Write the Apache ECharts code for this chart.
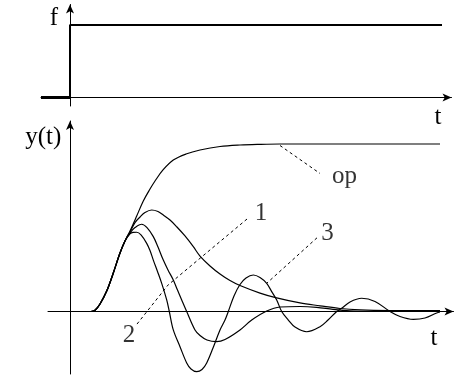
<!DOCTYPE html>
<html>
<head>
<meta charset="utf-8">
<script src="https://cdn.jsdelivr.net/npm/echarts@6/dist/echarts.min.js"></script>
<style>
html,body{margin:0;padding:0;background:#fff;}
#chart{width:464px;height:383px;}
</style>
</head>
<body>
<div id="chart"></div>
<script>
// ---- data (t along the time axis, value on the vertical axis) ----
const stepBefore = [[-2.9, 0], [0, 0]];
const stepAfter = [[0, 0], [0, 1], [37.2, 1]];

const curveOp = [[2.1,0],[2.5,0.007],[3.0,0.045],[3.67,0.122],[4.33,0.230],[5.0,0.349],[5.5,0.421],
  [6.0,0.481],[6.67,0.570],[7.33,0.660],[8.0,0.731],[8.5,0.779],[9.3,0.845],[10.33,0.904],
  [11.6,0.940],[13.0,0.964],[15.0,0.985],[17.0,0.994],[19.0,0.998],[21.0,1.0],[25.0,1.0],[30.0,1.0],[37.0,1.0]];

const curve1 = [[2.1,0],[2.5,0.007],[3.0,0.045],[3.67,0.122],[4.33,0.230],[5.0,0.349],[5.5,0.421],
  [6.0,0.475],[6.5,0.531],[7.0,0.564],[7.5,0.591],[8.17,0.606],[8.8,0.597],[9.33,0.576],[10.0,0.546],
  [10.67,0.506],[11.5,0.451],[12.33,0.387],[13.0,0.331],[14.0,0.272],[15.0,0.224],[16.0,0.185],
  [17.0,0.155],[19.0,0.110],[20.67,0.081],[23.0,0.051],[25.0,0.034],[27.0,0.018],[29.0,0.010],
  [32.0,0.006],[37.0,0.005]];

const curve2 = [[2.1,0],[2.5,0.007],[3.0,0.045],[3.67,0.122],[4.33,0.230],[5.0,0.349],[5.5,0.421],
  [6.0,0.469],[6.5,0.501],[7.17,0.521],[7.7,0.501],[8.33,0.447],[8.8,0.385],[9.33,0.307],[9.8,0.248],
  [10.33,0.188],[10.75,0.128],[11.17,0.069],[11.67,0],[12.5,-0.110],[13.0,-0.143],[13.7,-0.170],
  [14.67,-0.180],[15.5,-0.167],[17.0,-0.110],[18.17,-0.051],[19.67,0.003],[21.0,0.027],[23.0,0.030],
  [24.67,0.025],[26.3,0.013],[28.0,0.004],[30.0,0],[37.0,0]];

const curve3 = [[2.1,0],[2.5,0.007],[3.0,0.045],[3.67,0.122],[4.33,0.230],[5.0,0.349],[5.5,0.421],
  [6.0,0.463],[6.3,0.472],[6.67,0.473],[7.1,0.457],[7.67,0.407],[8.0,0.364],[8.33,0.307],[8.75,0.239],
  [9.17,0.168],[9.67,0.069],[9.93,0],[10.33,-0.110],[11.0,-0.210],[11.67,-0.307],[12.1,-0.343],
  [12.67,-0.359],[13.2,-0.346],[13.67,-0.307],[14.3,-0.218],[15.0,-0.110],[15.5,-0.051],[15.83,0],
  [16.4,0.093],[17.0,0.161],[17.6,0.200],[18.33,0.218],[19.0,0.203],[19.67,0.168],[20.2,0.116],
  [20.67,0.069],[21.17,0],[21.83,-0.051],[22.5,-0.093],[23.67,-0.121],[25.0,-0.091],[25.8,-0.051],
  [26.67,0],[27.17,0.019],[28.0,0.057],[29.17,0.079],[30.5,0.060],[32.0,0],[33.0,-0.030],
  [34.33,-0.047],[35.5,-0.039],[36.67,-0.009],[37.0,-0.003]];

const leaderOp = [[21.0, 0.991], [25.0, 0.824]];
const leader1 = [[17.7, 0.552], [9.8, 0.158]];
const leader2 = [[6.7, -0.075], [9.8, 0.158]];
const leader3 = [[24.7, 0.440], [19.7, 0.170]];

const curveLabels = ['op', '1', '2', '3'];
const axisLabels = ['f', 't', 'y(t)', 't'];

// ---- layout ----
const topGrid = {left: 41, top: 4.5, width: 410.5, height: 101.5, x0: 70, y0: 97.5, xs: 10, ys: 72.5};
const botGrid = {left: 48, top: 121, width: 405.5, height: 253, x0: 70, y0: 311.5, xs: 10, ys: 167.5};

function xr(g){ return {min: (g.left - g.x0)/g.xs, max: (g.left + g.width - g.x0)/g.xs}; }
function yr(g){ return {min: -(g.top + g.height - g.y0)/g.ys, max: (g.y0 - g.top)/g.ys}; }

const axisCommon = {
  type: 'value',
  splitLine: {show: false},
  axisTick: {show: false},
  axisLabel: {show: false},
  axisLine: {show: true, onZero: true, symbol: ['none', 'arrow'], symbolSize: [6, 9],
    lineStyle: {color: '#000', width: 1}}
};

function lineSeries(data, xi, width, extra) {
  return Object.assign({
    type: 'line', xAxisIndex: xi, yAxisIndex: xi, data: data,
    symbol: 'none', showSymbol: false, silent: true,
    lineStyle: {color: '#000', width: width}
  }, extra || {});
}
function dashed(data) {
  return lineSeries(data, 1, 1, {lineStyle: {color: '#000', width: 1, type: [3, 3]}});
}
// curve labels anchored in data coordinates via an invisible scatter point
function textPoint(s, t, v) {
  return {
    type: 'scatter', xAxisIndex: 1, yAxisIndex: 1, data: [[t, v]],
    symbolSize: 0, silent: true,
    label: {show: true, position: 'inside', formatter: s, color: '#000',
      fontFamily: 'Liberation Serif', fontSize: 25}
  };
}
function txt(s, x, y) {
  return {type: 'text', x: x, y: y, style: {text: s, fontFamily: 'Liberation Serif', fontSize: 25,
    fill: '#000', align: 'center', verticalAlign: 'middle'}};
}

const chart = echarts.init(document.getElementById('chart'));
chart.setOption({
  animation: false,
  backgroundColor: '#fff',
  textStyle: {fontFamily: 'Liberation Serif'},
  grid: [
    {left: topGrid.left, top: topGrid.top, width: topGrid.width, height: topGrid.height},
    {left: botGrid.left, top: botGrid.top, width: botGrid.width, height: botGrid.height}
  ],
  xAxis: [
    Object.assign({}, axisCommon, {gridIndex: 0}, xr(topGrid)),
    Object.assign({}, axisCommon, {gridIndex: 1}, xr(botGrid))
  ],
  yAxis: [
    Object.assign({}, axisCommon, {gridIndex: 0}, yr(topGrid)),
    Object.assign({}, axisCommon, {gridIndex: 1}, yr(botGrid))
  ],
  series: [
    lineSeries(stepBefore, 0, 3),
    lineSeries(stepAfter, 0, 2),
    lineSeries(curveOp, 1, 1.2, {smooth: 0.35}),
    lineSeries(curve1, 1, 1.2, {smooth: 0.35}),
    lineSeries(curve2, 1, 1.2, {smooth: 0.35}),
    lineSeries(curve3, 1, 1.2, {smooth: 0.35}),
    dashed(leaderOp), dashed(leader1), dashed(leader2), dashed(leader3),
    textPoint(curveLabels[0], 27.45, 0.806),
    textPoint(curveLabels[1], 19.1, 0.584),
    textPoint(curveLabels[2], 5.9, -0.140),
    textPoint(curveLabels[3], 25.75, 0.465)
  ],
  graphic: [
    txt(axisLabels[0], 54, 18.6),
    txt(axisLabels[1], 438, 117.6),
    txt(axisLabels[2], 43.3, 137),
    txt(axisLabels[3], 434, 338.3)
  ]
});
</script>
</body>
</html>
